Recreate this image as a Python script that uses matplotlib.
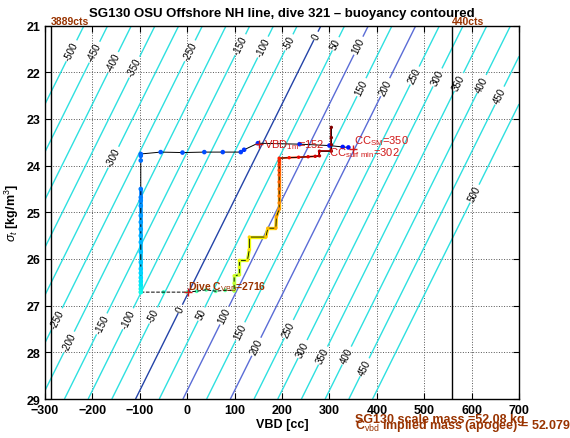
import numpy as np
import matplotlib
matplotlib.use('Agg')
import matplotlib.pyplot as plt
from matplotlib.collections import LineCollection

plt.rcParams['font.family'] = ['Liberation Sans', 'DejaVu Sans']
plt.rcParams['mathtext.fontset'] = 'custom'
plt.rcParams['mathtext.rm'] = 'Liberation Sans'
plt.rcParams['mathtext.it'] = 'Liberation Sans:italic'
plt.rcParams['mathtext.bf'] = 'Liberation Sans:bold'

# buoyancy model used for the contours: B = vbd - vbd_at_29 - vbd_per_sigma*(29 - sigma)
vbd_at_29 = -109.0
vbd_per_sigma = 48.9
levels = list(range(-500, 501, 50))

# where the contour labels sit (level -> sigma along that line)
top_lab_levels = [-500, -450, -400, -350, -300, -250, -150, -100, -50, 0, 50, 100,
                  150, 200, 250, 300, 350, 400, 450, 500]
top_lab_sigma = [21.54, 21.57, 21.79, 21.89, 23.82, 21.54, 21.41, 21.46, 21.36, 21.22,
                 21.39, 21.43, 22.32, 22.32, 22.07, 22.11, 22.21, 22.25, 22.5, 24.6]
bot_lab_levels = [-250, -200, -150, -100, -50, 0, 50, 100, 150, 200, 250, 300, 350, 400, 450]
bot_lab_sigma = [27.28, 27.78, 27.39, 27.28, 27.21, 27.07, 27.18, 27.21, 27.55, 27.88,
                 27.5, 27.93, 28.07, 28.07, 28.32]

# dive track (VBD [cc], sigma_t)
desc_vbd = [340, 328, 300, 237, 149, 120, 113, 75, 36, -10, -56, -98, -98, -98, -98, -98,
            -98, -98, -98, -98, -98, -98, -98, -98, -98, -98, -98, -98, -98, -98, -98, -98]
desc_sig = [23.61, 23.60, 23.57, 23.54, 23.52, 23.66, 23.71, 23.71, 23.71, 23.72, 23.71,
            23.75, 23.79, 23.89, 24.50, 24.68, 24.75, 24.86, 25.07, 25.21, 25.36, 25.50,
            25.64, 25.85, 26.07, 26.21, 26.30, 26.40, 26.48, 26.56, 26.64, 26.71]
bot_vbd = [-98, -50, 0.6, 20, 40, 60, 80, 99]
bot_sig = [26.71, 26.71, 26.71, 26.69, 26.66, 26.69, 26.67, 26.68]
climb_vbd = [99, 99, 99, 110, 110, 110, 127, 131, 131, 166, 170, 187, 188, 194, 194, 194,
             194, 194, 194, 194, 194, 194, 194, 215, 235, 255, 270, 279, 279, 304, 304, 304, 304]
climb_sig = [26.68, 26.52, 26.36, 26.34, 26.18, 26.03, 26.03, 25.80, 25.53, 25.53, 25.34,
             25.34, 25.10, 24.93, 24.80, 24.65, 24.50, 24.35, 24.20, 24.10, 23.98, 23.90,
             23.84, 23.83, 23.82, 23.81, 23.80, 23.79, 23.69, 23.69, 23.55, 23.40, 23.18]

vbd_1m = 152
cc_sm = 350
cc_surf_min = 302
dive_c_vbd = 2716

fig = plt.figure(figsize=(5.7, 4.39), dpi=100)
ax = fig.add_axes([0.079, 0.0888, 0.8316, 0.8506])
ax.set_xlim(-300, 700)
ax.set_ylim(29, 21)

# contours
vv, ss = np.meshgrid(np.linspace(-300, 700, 401), np.linspace(21, 29, 161))
bb = vv - vbd_at_29 - vbd_per_sigma * (29 - ss)
cols = []
for lv in levels:
    if lv == 0:
        cols.append('#2444a8')
    elif lv in (100, 200):
        cols.append('#5a6cd6')
    else:
        cols.append('#2ee0e0')
cs = ax.contour(vv, ss, bb, levels=levels, colors=cols, linewidths=1.0)


def lab_pos(lv, s):
    return (lv + vbd_at_29 + vbd_per_sigma * (29 - s), s)


manual = [lab_pos(l, s) for l, s in zip(top_lab_levels, top_lab_sigma)]
manual += [lab_pos(l, s) for l, s in zip(bot_lab_levels, bot_lab_sigma)]
ax.clabel(cs, manual=manual, inline=True, inline_spacing=2, fontsize=7, colors='k', fmt='%d')
# the labels follow the lines, which rise to the right
p0 = ax.transData.transform((0, 29))
p1 = ax.transData.transform((vbd_per_sigma, 28))
ang = np.degrees(np.arctan2(p1[1] - p0[1], p1[0] - p0[0]))
for t in cs.labelTexts:
    t.set_rotation(ang)

# vertical limits of VBD
ax.axvline(-288, color='k', lw=1)
ax.axvline(559, color='k', lw=1)
ax.text(-288, 21, '3889cts', color='#993300', fontsize=7.5, fontweight='bold',
        ha='left', va='bottom', clip_on=False)
ax.text(559, 21, '440cts', color='#993300', fontsize=7.5, fontweight='bold',
        ha='left', va='bottom', clip_on=False)

# track coloured by time (jet)
jet = plt.get_cmap('jet')
nd = len(desc_vbd)
nb = len(bot_vbd)
t_desc = np.linspace(0.14, 0.37, nd)
t_bot = np.linspace(0.40, 0.48, nb)
t_climb = np.linspace(0.53, 0.96, len(climb_vbd))

dpts = np.column_stack([desc_vbd, desc_sig])
dsegs = np.stack([dpts[:-1], dpts[1:]], axis=1)
dw = [2.6 if s >= 24.6 else 0.0 for s in desc_sig[1:]]
ax.add_collection(LineCollection(dsegs, colors=jet(t_desc[1:]), linewidths=dw, zorder=4))
ax.plot(desc_vbd, desc_sig, color='k', lw=0.7, zorder=5)
ax.scatter(desc_vbd, desc_sig, c=jet(t_desc), s=11, zorder=6, linewidths=0)

ax.plot(bot_vbd, bot_sig, color='k', lw=0.7, ls='--', zorder=5)
ax.scatter(bot_vbd, bot_sig, c=jet(t_bot), s=8, zorder=4, linewidths=0)

pts = np.column_stack([climb_vbd, climb_sig])
segs = np.stack([pts[:-1], pts[1:]], axis=1)
cw = [2.4 if i < 22 else 1.3 for i in range(len(segs))]
lc = LineCollection(segs, colors=jet(t_climb[1:]), linewidths=cw, zorder=4)
ax.add_collection(lc)
ax.plot(climb_vbd, climb_sig, color='k', lw=0.6, zorder=5)
ax.scatter(climb_vbd, climb_sig, c=jet(np.minimum(t_climb + 0.05, 1.0)), s=6, zorder=6,
           linewidths=0)

# markers and annotations
red = '#d01818'
ax.plot([vbd_1m, cc_sm, 0.6], [23.54, 23.64, 26.71], ls='none', marker='+', ms=6,
        mew=1, color=red, zorder=7)
ax.text(vbd_1m + 10, 23.54, 'VBD$_{\\rm 1m}$=%d' % vbd_1m, color=red, fontsize=8,
        ha='left', va='center', zorder=8)
ax.text(cc_sm + 2, 23.46, 'CC$_{\\rm SM}$=%d' % cc_sm, color=red, fontsize=8,
        ha='left', va='center', zorder=8)
ax.text(cc_surf_min - 2, 23.72, 'CC$_{\\rm surf\\ min}$=%d' % cc_surf_min, color=red,
        fontsize=8, ha='left', va='center', zorder=8)
ax.text(2, 26.58, 'Dive C$_{\\rm VBD}$=%d' % dive_c_vbd, color='#993300', fontsize=7.5,
        fontweight='bold', ha='left', va='center', zorder=8)

ax.text(353, 29.42, 'SG130 scale mass =52.08 kg', color='#993300', fontsize=9,
        fontweight='bold', ha='left', va='center', clip_on=False)
ax.text(353, 29.55, 'C$_{\\rm vbd}$ implied mass (apogee) = 52.079 kg', color='#993300',
        fontsize=9, fontweight='bold', ha='left', va='center', clip_on=False)

ax.set_xticks(range(-300, 701, 100))
ax.set_yticks(range(21, 30))
ax.tick_params(direction='in', top=True, right=True, labelsize=9, width=0.8, length=4)
for lab in ax.get_xticklabels() + ax.get_yticklabels():
    lab.set_fontweight('bold')
ax.grid(True, ls=':', color='#555555', lw=0.7)
for sp in ax.spines.values():
    sp.set_linewidth(1)

ax.set_xlabel('VBD [cc]', fontsize=9, fontweight='bold', va='center')
ax.xaxis.set_label_coords(0.5, -0.067)
ax.set_ylabel('$\\sigma_t$ [kg/m$^3$]', fontsize=9, fontweight='bold')
fig.text(0.495, 0.968, 'SG130 OSU Offshore NH line, dive 321 \u2013 buoyancy contoured',
         ha='center', va='center', fontsize=9.5, fontweight='bold')

fig.savefig('out.png', dpi=100)
